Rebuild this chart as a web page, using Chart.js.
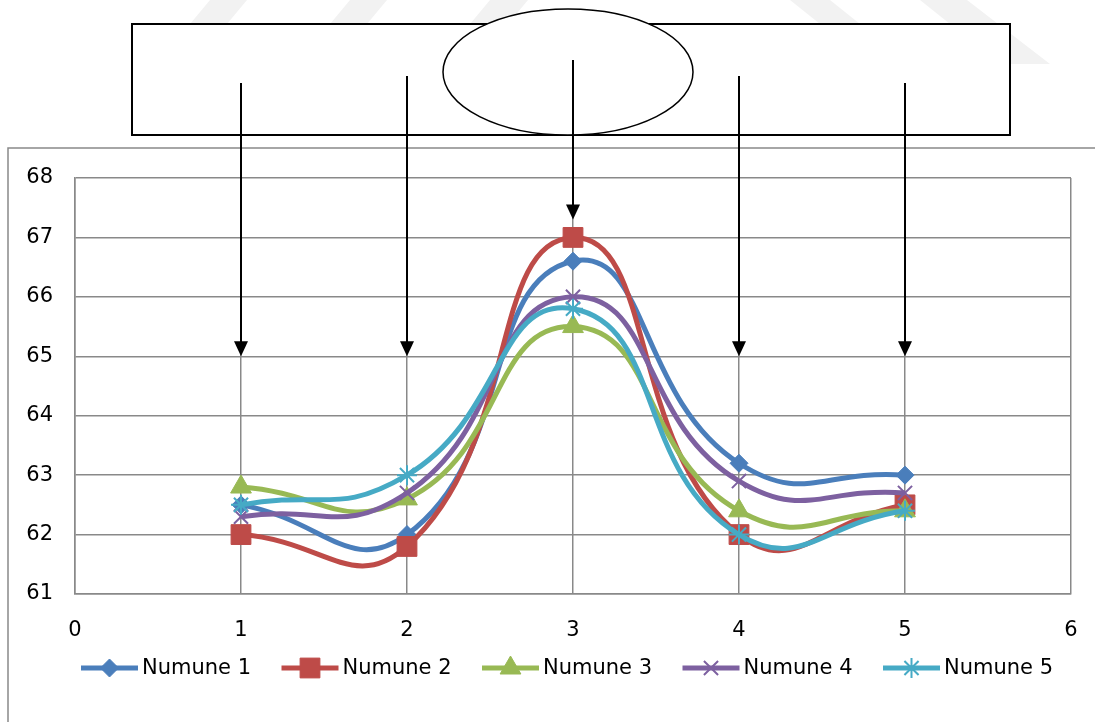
<!DOCTYPE html>
<html lang="tr">
<head>
<meta charset="UTF-8">
<title>Numune</title>
<script src="https://cdn.jsdelivr.net/npm/chart.js"></script>
<style>
  html, body { margin: 0; padding: 0; background: #fff; }
  #wrap { position: relative; width: 1095px; height: 722px; }
</style>
</head>
<body>
<div id="wrap"><canvas id="numuneChart" width="1095" height="722"></canvas></div>

<script>
// --- data ---
const xValues = [1, 2, 3, 4, 5];
const numune1 = [62.5, 62.0, 66.6, 63.2, 63.0];
const numune2 = [62.0, 61.8, 67.0, 62.0, 62.5];
const numune3 = [62.8, 62.6, 65.5, 62.4, 62.4];
const numune4 = [62.3, 62.7, 66.0, 62.9, 62.7];
const numune5 = [62.5, 63.0, 65.8, 62.0, 62.4];
const seriesNames = ['Numune 1', 'Numune 2', 'Numune 3', 'Numune 4', 'Numune 5'];
const xTickRange = [0, 6];
const yTickRange = [61, 68];
// where the arrows of the drawing above the chart point to (y value)
const arrowTips = [65, 65, 67.3, 65, 65];

const seriesData = [numune1, numune2, numune3, numune4, numune5];
const colors = ['#4A7EBB', '#BE4B48', '#98B954', '#7D60A0', '#46AAC5'];
const markers = ['rectRot', 'rect', 'triangle', 'crossRot', 'star'];
const markerSize = [9, 14, 12, 10, 10];

const FONT = 'DejaVu Sans';
const gridColor = '#898989';

const datasets = seriesData.map((vals, i) => ({
    label: seriesNames[i],
    data: vals.map((v, k) => ({ x: xValues[k], y: v })),
    borderColor: colors[i],
    backgroundColor: colors[i],
    borderWidth: 5,
    tension: 0.5,
    pointStyle: markers[i],
    pointRadius: markerSize[i],
    pointBackgroundColor: colors[i],
    pointBorderColor: colors[i],
    pointBorderWidth: (i > 2) ? 2 : 1,
    order: 5 - i
}));

// faint watermark stripes of the scanned page, top edge only
const watermarkPlugin = {
    id: 'watermark',
    beforeDraw(chart) {
        const ctx = chart.ctx;
        const stripes = [
            [[210, 0], [247, 0], [227, 24], [190, 24]],
            [[350, 0], [387, 0], [367, 24], [330, 24]],
            [[490, 0], [528, 0], [508, 24], [470, 24]],
            [[790, 0], [830, 0], [860, 24], [820, 24]],
            [[920, 0], [967, 0], [1050, 64], [1000, 64]]
        ];
        ctx.save();
        ctx.fillStyle = '#f2f2f2';
        stripes.forEach(p => {
            ctx.beginPath();
            ctx.moveTo(p[0][0], p[0][1]);
            for (let k = 1; k < p.length; k++) ctx.lineTo(p[k][0], p[k][1]);
            ctx.closePath();
            ctx.fill();
        });
        ctx.restore();
    }
};

// drawing above the chart: box, ellipse and arrows, plus the outer frame and legend
const sketchPlugin = {
    id: 'sketch',
    afterDraw(chart) {
        const ctx = chart.ctx;
        const xs = chart.scales.x, ys = chart.scales.y;
        ctx.save();

        // outer frame of the chart object
        ctx.strokeStyle = gridColor;
        ctx.lineWidth = 1.5;
        ctx.beginPath();
        ctx.moveTo(8, 722);
        ctx.lineTo(8, 148);
        ctx.lineTo(1095, 148);
        ctx.stroke();

        // rectangle
        ctx.fillStyle = '#fff';
        ctx.fillRect(132, 24, 878, 111);
        ctx.strokeStyle = '#000';
        ctx.lineWidth = 2;
        ctx.strokeRect(132, 24, 878, 111);

        // ellipse
        ctx.beginPath();
        ctx.ellipse(568, 72, 125, 63, 0, 0, Math.PI * 2);
        ctx.fill();
        ctx.lineWidth = 1.5;
        ctx.stroke();

        // arrows
        const starts = [83, 76, 60, 76, 83];
        ctx.fillStyle = '#000';
        xValues.forEach((v, i) => {
            const px = xs.getPixelForValue(v);
            const tip = ys.getPixelForValue(arrowTips[i]);
            ctx.lineWidth = 2;
            ctx.beginPath();
            ctx.moveTo(px, starts[i]);
            ctx.lineTo(px, tip - 12);
            ctx.stroke();
            ctx.beginPath();
            ctx.moveTo(px - 7, tip - 15);
            ctx.lineTo(px + 7, tip - 15);
            ctx.lineTo(px, tip);
            ctx.closePath();
            ctx.fill();
        });

        // legend: line with marker, then the name
        ctx.font = '21px "' + FONT + '"';
        ctx.textBaseline = 'middle';
        ctx.textAlign = 'left';
        const ly = 668;
        chart.data.datasets.forEach((ds, i) => {
            const lx = 81 + i * 200.5;
            ctx.strokeStyle = ds.borderColor;
            ctx.fillStyle = ds.borderColor;
            ctx.lineWidth = 5;
            ctx.beginPath();
            ctx.moveTo(lx, ly);
            ctx.lineTo(lx + 57, ly);
            ctx.stroke();
            ctx.lineWidth = ds.pointBorderWidth;
            Chart.helpers.drawPoint(ctx, {
                pointStyle: ds.pointStyle,
                radius: ds.pointRadius,
                rotation: 0,
                borderWidth: ds.pointBorderWidth
            }, lx + 28.5, ly);
            ctx.fillStyle = '#000';
            ctx.fillText(ds.label, lx + 61, ly + 1);
        });
        ctx.restore();
    }
};

new Chart(document.getElementById('numuneChart').getContext('2d'), {
    type: 'line',
    data: { datasets: datasets },
    options: {
        responsive: false,
        animation: false,
        devicePixelRatio: 1,
        layout: { padding: { top: 178, right: 24, bottom: 78, left: 0 } },
        plugins: {
            legend: { display: false },
            tooltip: { enabled: false }
        },
        scales: {
            x: {
                type: 'linear',
                min: xTickRange[0],
                max: xTickRange[1],
                ticks: { stepSize: 1, padding: 24, color: '#000', font: { family: FONT, size: 21 } },
                grid: { color: gridColor, lineWidth: 1.5, drawTicks: false },
                border: { color: gridColor, width: 1.5 },
                afterFit: s => { s.height = 50; s.paddingLeft = 0; s.paddingRight = 0; }
            },
            y: {
                min: yTickRange[0],
                max: yTickRange[1],
                ticks: { stepSize: 1, padding: 22, color: '#000', font: { family: FONT, size: 21 } },
                grid: { color: gridColor, lineWidth: 1.5, drawTicks: false },
                border: { color: gridColor, width: 1.5 },
                afterFit: s => { s.width = 75; }
            }
        }
    },
    plugins: [watermarkPlugin, sketchPlugin]
});
</script>
</body>
</html>
